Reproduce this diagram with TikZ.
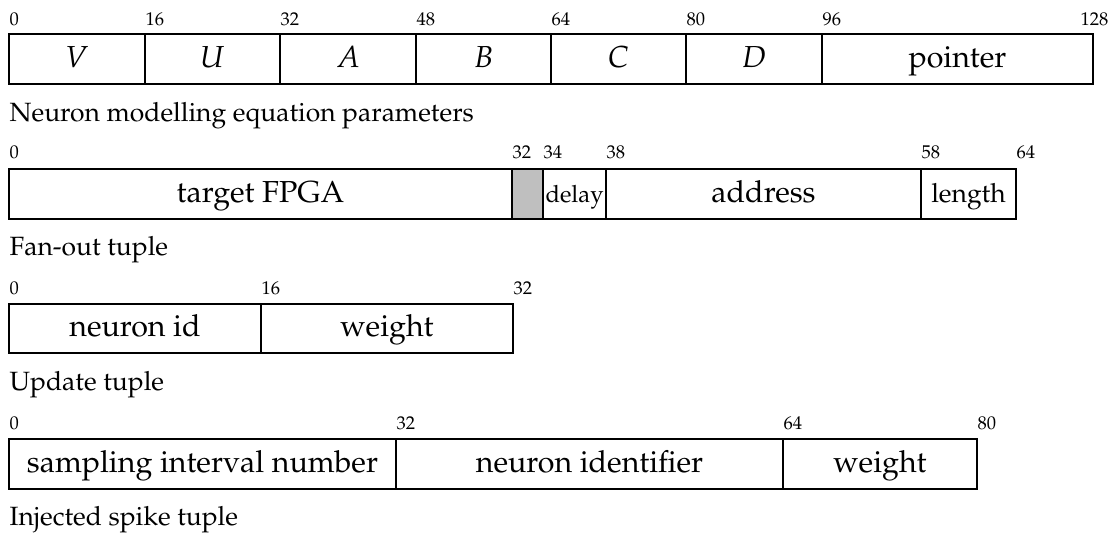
\documentclass[tikz,border=0pt]{standalone}
\usepackage[T1]{fontenc}
\usepackage{mathpazo}
\begin{document}
\begin{tikzpicture}[
    bits/.style={font=\scriptsize,anchor=west,inner sep=0pt},
    field/.style={font=\fontsize{11.5}{14}\selectfont,text height=1.6ex,text depth=.4ex},
    tag/.style={anchor=west,inner sep=0pt},
    line width=0.5pt]
\pgftransformscale{.133}
\useasboundingbox (0,0) rectangle (111.1,-53.3);

    % neuron parameters, 128 bits
    \draw (0.9,-3.4) rectangle (109.3,-8.4);
    \foreach \x in {14.5,28.0,41.6,55.1,68.6,82.2}
      \draw (\x,-3.4) -- (\x,-8.4);
    \foreach \x/\b in {0.9/0,14.5/16,28.0/32,41.6/48,55.1/64,68.6/80,82.2/96}
      \node[bits] at (\x,-1.9) {\b};
    \node[bits,anchor=east] at (110.9,-1.9) {128};
    \node[field] at (7.7,-6.0)  (V) {$V$};
    \node[field] at (21.25,-6.0) (U) {$U$};
    \node[field] at (34.8,-6.0) (A) {$A$};
    \node[field] at (48.35,-6.0) (B) {$B$};
    \node[field] at (61.85,-6.0) (C) {$C$};
    \node[field] at (75.4,-6.0) (D) {$D$};
    \node[field] at (95.75,-6.0) (pointer) {pointer};
    \node[tag] at (0.9,-11.6) (neuroncap) {Neuron modelling equation parameters};

    % fan-out tuple, 64 bits
    \fill[black!25] (51.2,-16.9) rectangle (54.3,-21.9);
    \draw (0.9,-16.9) rectangle (101.6,-21.9);
    \foreach \x in {51.2,54.3,60.6,92.1}
      \draw (\x,-16.9) -- (\x,-21.9);
    \foreach \x/\b in {0.9/0,51.2/32,54.3/34,60.6/38,92.1/58,101.6/64}
      \node[bits] at (\x,-15.2) {\b};
    \node[field] at (26.05,-19.5) (fpga) {target FPGA};
    \node[field,font=\small] at (57.45,-19.5) (delay) {delay};
    \node[field,font=\normalsize] at (96.85,-19.5) (length) {length};
    \node[field] at (76.35,-19.5) (address) {address};
    \node[tag] at (0.9,-25.0) (fanoutcap) {Fan-out tuple};

    % update tuple, 32 bits
    \draw (0.9,-30.4) rectangle (51.3,-35.3);
    \draw (26.1,-30.4) -- (26.1,-35.3);
    \foreach \x/\b in {0.9/0,26.1/16,51.3/32}
      \node[bits] at (\x,-28.8) {\b};
    \node[field] at (13.5,-32.95) (nid) {neuron id};
    \node[field] at (38.7,-32.95) (weight) {weight};
    \node[tag] at (0.9,-38.5) (updatecap) {Update tuple};

    % injected spike tuple, 80 bits
    \draw (0.9,-43.9) rectangle (97.7,-48.9);
    \draw (39.6,-43.9) -- (39.6,-48.9);
    \draw (78.3,-43.9) -- (78.3,-48.9);
    \foreach \x/\b in {0.9/0,39.6/32,78.3/64,97.7/80}
      \node[bits] at (\x,-42.3) {\b};
    \node[field] at (20.25,-46.5) (interval) {sampling interval number};
    \node[field] at (58.95,-46.5) (nident) {neuron identifier};
    \node[field] at (88.0,-46.5) (sweight) {weight};
    \node[tag] at (0.9,-52.0) (spikecap) {Injected spike tuple};

\end{tikzpicture}
\end{document}
